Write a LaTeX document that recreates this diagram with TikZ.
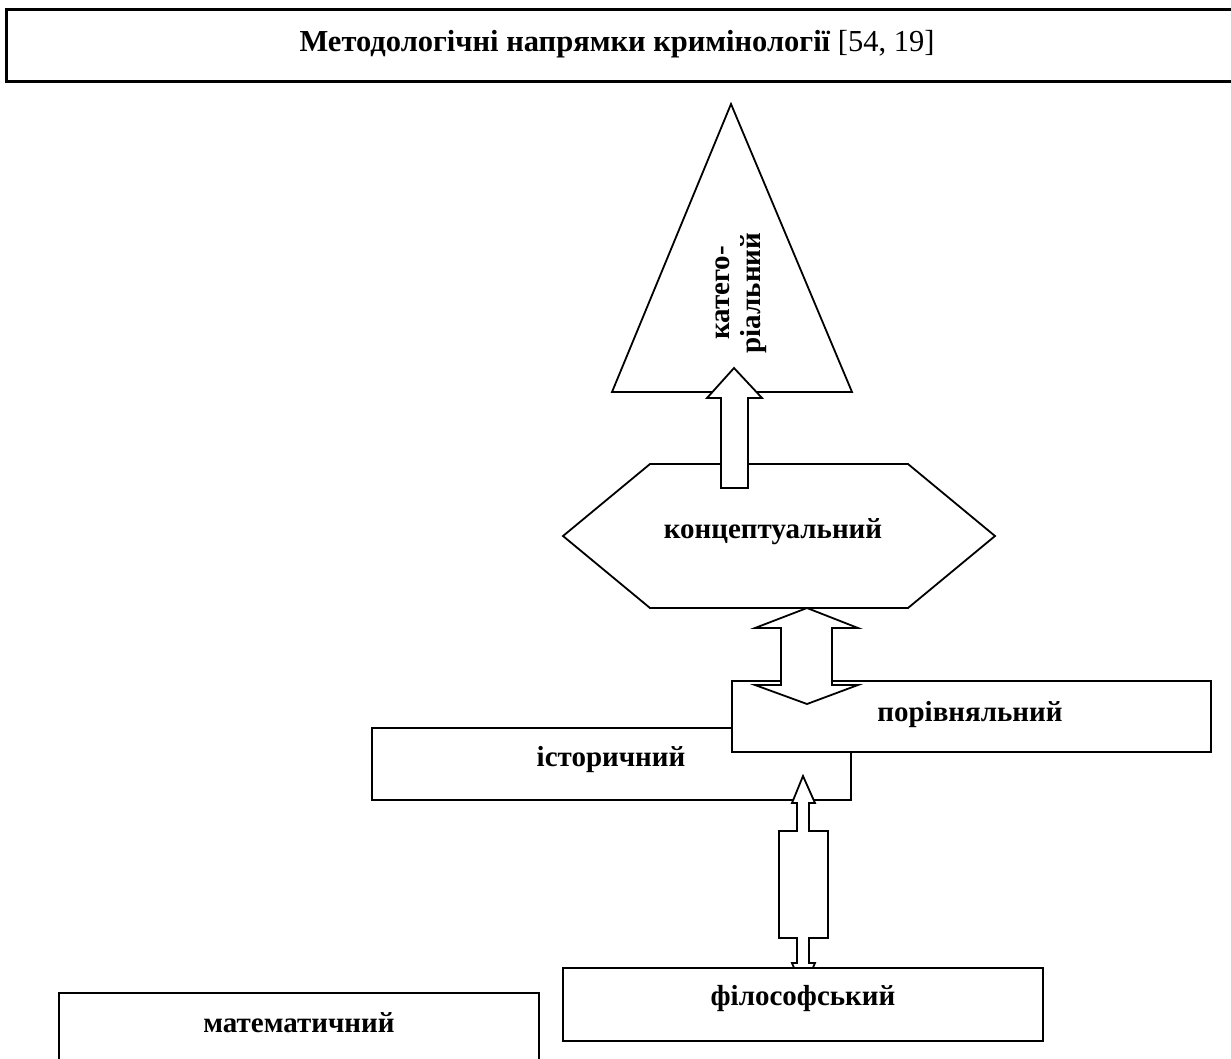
\documentclass[tikz,border=0pt]{standalone}
\usepackage{fontspec}
\setmainfont{Liberation Serif}
\begin{document}
\begin{tikzpicture}[x=1pt,y=-1pt,
  every node/.style={font=\fontsize{29}{31}\selectfont\bfseries},
  ln/.style={line width=1.8pt, line join=miter},
  boxn/.style={ln, draw, fill=white, rectangle, inner sep=0pt},
  blockarrow/.style={ln, draw, fill=white}]
\useasboundingbox (0,0) rectangle (1231,1058);
\fill[white] (0,0) rectangle (1231,1058);

% title
\node[draw, line width=3pt, rectangle, anchor=north west, minimum width=1240pt, minimum height=72pt, inner sep=0pt] (title) at (5,8) {};
\node[font=\fontsize{30.5}{32}\selectfont\bfseries] (titletext) at (617,44) {Методологічні напрямки кримінології \mdseries[54, 19]};

% triangle
\coordinate (tA) at (731,104);
\coordinate (tB) at (852,392);
\coordinate (tC) at (612,392);
\draw[blockarrow] (tA) -- (tB) -- (tC) -- cycle;
\node[rotate=90, align=center, inner sep=0pt] (kat) at (741,293) {катего-\\ріальний};

% hexagon
\draw[blockarrow] (563,536) -- (650,464) -- (908,464) -- (995,536) -- (908,608) -- (650,608) -- cycle;
\node (konc) at (773,532) {концептуальний};

% arrow hexagon -> triangle
\draw[blockarrow] (721,488) -- (721,398) -- (707,398) -- (734,368) -- (762,398) -- (748,398) -- (748,488) -- cycle;

% historical & comparative boxes
\node[boxn, minimum width=479pt, minimum height=72pt] (ist) at (611.5,764) {};
\node (isttext) at (611,760) {історичний};
\node[boxn, minimum width=479pt, minimum height=71pt] (por) at (971.5,716.5) {};
\node (portext) at (970,715) {порівняльний};

% double arrow hexagon <-> comparative
\draw[blockarrow] (807,608) -- (858,628) -- (832,628) -- (832,685) -- (858,685) -- (807,704)
  -- (755,685) -- (781,685) -- (781,628) -- (755,628) -- cycle;

% arrow philosophical -> historical
\draw[blockarrow] (803,776) -- (815,803) -- (809,803) -- (809,831) -- (828,831) -- (828,938)
  -- (809,938) -- (809,963) -- (815,963) -- (803,990) -- (792,963) -- (797,963) -- (797,938)
  -- (779,938) -- (779,831) -- (797,831) -- (797,803) -- (792,803) -- cycle;

% philosophical & mathematical boxes
\node[boxn, minimum width=480pt, minimum height=73pt] (fil) at (803,1004.5) {};
\node (filtext) at (803,999) {філософський};
\node[boxn, minimum width=480pt, minimum height=73pt] (mat) at (299,1029.5) {};
\node (mattext) at (299,1023) {математичний};
\end{tikzpicture}
\end{document}
